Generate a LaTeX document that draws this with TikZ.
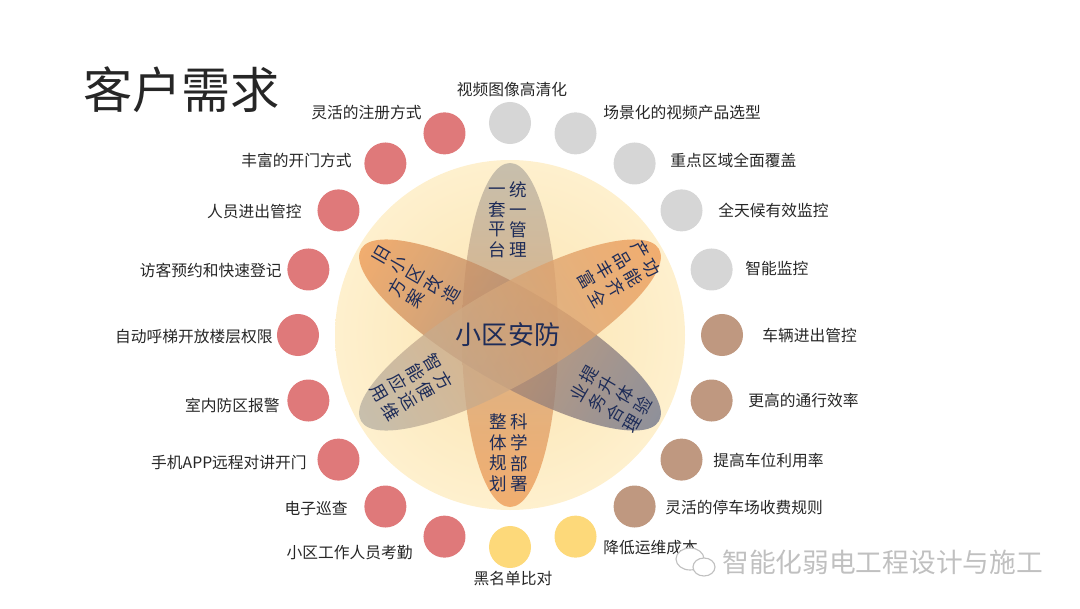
\documentclass[tikz,border=0pt]{standalone}
\usepackage{fontspec}
\setmainfont{Noto Sans CJK SC}
\usetikzlibrary{shadings}

\definecolor{dotred}{RGB}{223,121,122}
\definecolor{dotgray}{RGB}{214,214,214}
\definecolor{dotbrown}{RGB}{191,152,128}
\definecolor{dotyellow}{RGB}{253,217,122}
\definecolor{ringfill}{RGB}{254,240,206}
\definecolor{ringcore}{RGB}{251,228,176}
\definecolor{petalorange}{RGB}{238,155,85}
\definecolor{petalgray}{RGB}{184,178,164}
\definecolor{petalblue}{RGB}{112,118,140}
\definecolor{petaltext}{RGB}{30,44,88}
\definecolor{labeltext}{RGB}{38,38,38}
\definecolor{markgray}{RGB}{192,192,192}

% two vertical columns of characters, each centred
\newcommand{\twocol}[2]{%
  \begin{tabular}{@{}c@{\hspace{2.5pt}}c@{}}
    \begin{tabular}[c]{@{}c@{}}#1\end{tabular} &
    \begin{tabular}[c]{@{}c@{}}#2\end{tabular}
  \end{tabular}}

\begin{document}
\begin{tikzpicture}[x=0.025cm, y=0.025cm,
  dot/.style={circle, inner sep=0pt, minimum size=1.05cm},
  lbl/.style={inner sep=0pt, text=labeltext, font=\fontsize{11.2}{13}\selectfont},
  petal/.style={inner sep=0pt, text=petaltext, font=\fontsize{12.5}{14}\selectfont}]
  \useasboundingbox (0,0) rectangle (1080,608);

  % title top left
  \node[anchor=west, inner sep=0pt, text=labeltext, font=\fontsize{35}{40}\selectfont] (title) at (83,518) {客户需求};

  % pale disc behind the petals
  \shade[inner color=ringcore, outer color=ringfill] (510,273) circle [radius=175];

  % vertical petal: grey on top, orange below
  \shade[top color=petalgray, bottom color=petalorange, fill opacity=.78] (510,273) ellipse [x radius=48, y radius=172];
  % petal from upper left (orange) to lower right (grey blue)
  \begin{scope}[transform canvas={rotate around={60:(510,273)}}]
    \shade[top color=petalorange, bottom color=petalblue, fill opacity=.78] (510,273) ellipse [x radius=48, y radius=172];
  \end{scope}
  % petal from upper right (orange) to lower left (grey)
  \begin{scope}[transform canvas={rotate around={-60:(510,273)}}]
    \shade[top color=petalorange, bottom color=petalgray, fill opacity=.78] (510,273) ellipse [x radius=48, y radius=172];
  \end{scope}

  % text in the middle
  \node[inner sep=0pt, text=petaltext, font=\fontsize{18.5}{22}\selectfont] (core) at (508,273) {小区安防};

  % texts on the six petal ends
  \node[petal] (p-top) at (508,386) {\twocol{一\\套\\平\\台}{统\\一\\管\\理}};
  \node[petal] (p-bottom) at (509,153) {\twocol{整\\体\\规\\划}{科\\学\\部\\署}};
  \node[petal, rotate=60] (p-upleft) at (413,323) {\twocol{方\\案}{旧\\小\\区\\改\\造}};
  \node[petal, rotate=-60] (p-upright) at (617,333) {\twocol{产\\品\\丰\\富}{功\\能\\齐\\全}};
  \node[petal, rotate=-60] (p-lowleft) at (410,220) {\twocol{智\\能\\应\\用}{方\\便\\运\\维}};
  \node[petal, rotate=60] (p-lowright) at (613,208) {\twocol{业\\务\\合\\理}{提\\升\\体\\验}};

  % ring of dots, 18 degrees apart
  \begin{scope}[shift={(510,273)}]
    % grey dots on top
    \node[dot, fill=dotgray] (g1) at (90:212) {};
    \node[dot, fill=dotgray] (g2) at (72:212) {};
    \node[dot, fill=dotgray] (g3) at (54:212) {};
    \node[dot, fill=dotgray] (g4) at (36:212) {};
    \node[dot, fill=dotgray] (g5) at (18:212) {};
    % brown dots on the right
    \node[dot, fill=dotbrown] (b1) at (0:212) {};
    \node[dot, fill=dotbrown] (b2) at (-18:212) {};
    \node[dot, fill=dotbrown] (b3) at (-36:212) {};
    \node[dot, fill=dotbrown] (b4) at (-54:212) {};
    % yellow dots at the bottom
    \node[dot, fill=dotyellow] (y1) at (-72:212) {};
    \node[dot, fill=dotyellow] (y2) at (-90:212) {};
    % red dots on the left
    \node[dot, fill=dotred] (r1) at (-108:212) {};
    \node[dot, fill=dotred] (r2) at (-126:212) {};
    \node[dot, fill=dotred] (r3) at (-144:212) {};
    \node[dot, fill=dotred] (r4) at (-162:212) {};
    \node[dot, fill=dotred] (r5) at (180:212) {};
    \node[dot, fill=dotred] (r6) at (162:212) {};
    \node[dot, fill=dotred] (r7) at (144:212) {};
    \node[dot, fill=dotred] (r8) at (126:212) {};
    \node[dot, fill=dotred] (r9) at (108:212) {};
  \end{scope}

  % labels, right half
  \node[lbl] (t-g1) at (512,518) {视频图像高清化};
  \node[lbl, anchor=west] (t-g2) at (603,495) {场景化的视频产品选型};
  \node[lbl, anchor=west] (t-g3) at (670,448) {重点区域全面覆盖};
  \node[lbl, anchor=west] (t-g4) at (718,398) {全天候有效监控};
  \node[lbl, anchor=west] (t-g5) at (745,340) {智能监控};
  \node[lbl, anchor=west] (t-b1) at (762,273) {车辆进出管控};
  \node[lbl, anchor=west] (t-b2) at (748,208) {更高的通行效率};
  \node[lbl, anchor=west] (t-b3) at (713,148) {提高车位利用率};
  \node[lbl, anchor=west] (t-b4) at (665,100) {灵活的停车场收费规则};
  \node[lbl, anchor=west] (t-y1) at (603,60) {降低运维成本};
  \node[lbl] (t-y2) at (513,29) {黑名单比对};

  % labels, left half
  \node[lbl, anchor=east] (t-r1) at (413,55) {小区工作人员考勤};
  \node[lbl, anchor=east] (t-r2) at (348,99) {电子巡查};
  \node[lbl, anchor=east] (t-r3) at (307,145) {手机APP远程对讲开门};
  \node[lbl, anchor=east] (t-r4) at (280,203) {室内防区报警};
  \node[lbl, anchor=east] (t-r5) at (273,271) {自动呼梯开放楼层权限};
  \node[lbl, anchor=east] (t-r6) at (282,338) {访客预约和快速登记};
  \node[lbl, anchor=east] (t-r7) at (302,396) {人员进出管控};
  \node[lbl, anchor=east] (t-r8) at (352,448) {丰富的开门方式};
  \node[lbl, anchor=east] (t-r9) at (422,495) {灵活的注册方式};

  % watermark bottom right
  \draw[markgray, fill=white, line width=0.8pt] (690,49) ellipse [x radius=14, y radius=11];
  \draw[markgray, fill=white, line width=0.8pt] (704,41) ellipse [x radius=11, y radius=9];
  \node[anchor=west, inner sep=0pt, text=markgray, font=\fontsize{19}{22}\selectfont] (mark) at (722,46) {智能化弱电工程设计与施工};
\end{tikzpicture}
\end{document}
